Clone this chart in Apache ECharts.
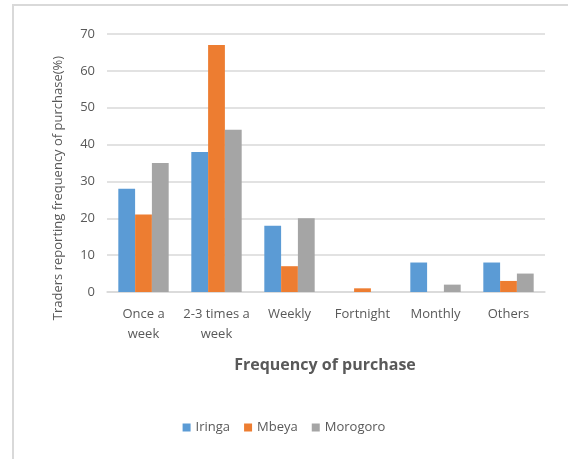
<!DOCTYPE html>
<html>
<head>
<meta charset="utf-8">
<script src="https://cdn.jsdelivr.net/npm/echarts@6/dist/echarts.min.js"></script>
<style>
  html, body { margin: 0; padding: 0; background: #fff; }
  #main { width: 568px; height: 459px; }
</style>
</head>
<body>
<div id="main"></div>
<script>
var categories = ['Once a\nweek', '2-3 times a\nweek', 'Weekly', 'Fortnight', 'Monthly', 'Others'];
var iringa = [28, 38, 18, 0, 8, 8];
var mbeya = [21, 67, 7, 1, 0, 3];
var morogoro = [35, 44, 20, 0, 2, 5];
var yTicks = [0, 10, 20, 30, 40, 50, 60, 70];

var myChart = echarts.init(document.getElementById('main'));
var font = '"Open Sans"';
var option;

option = {
  backgroundColor: '#fff',
  color: ['#5B9BD5', '#ED7D31', '#A5A5A5'],
  animation: false,
  textStyle: { fontFamily: font },
  graphic: [
    {
      type: 'rect',
      shape: { x: 13, y: 5, width: 600, height: 500 },
      style: { fill: 'none', stroke: '#d9d9d9', lineWidth: 2 }
    },
    {
      type: 'text',
      x: 58,
      y: 188,
      rotation: Math.PI / 2,
      style: {
        text: 'Traders reporting frequency of purchase(%)',
        fill: '#595959',
        font: '13px ' + font,
        align: 'center',
        verticalAlign: 'middle'
      }
    },
    {
      type: 'text',
      x: 325,
      y: 365,
      style: {
        text: 'Frequency of purchase',
        fill: '#595959',
        font: 'bold 16px ' + font,
        align: 'center',
        verticalAlign: 'middle'
      }
    }
  ],
  legend: {
    bottom: 20,
    left: 'center',
    itemWidth: 8,
    itemHeight: 8,
    itemGap: 14,
    icon: 'rect',
    textStyle: { color: '#595959', fontSize: 13, fontFamily: font }
  },
  grid: {
    left: 107,
    right: 23,
    top: 34,
    bottom: 167,
    containLabel: false
  },
  xAxis: {
    type: 'category',
    data: categories,
    axisLine: { lineStyle: { color: '#d9d9d9', width: 1.5 } },
    axisTick: { show: false },
    axisLabel: { color: '#595959', fontSize: 13, margin: 12, lineHeight: 20, interval: 0 }
  },
  yAxis: {
    type: 'value',
    min: 0,
    max: 70,
    interval: 10,
    axisLine: { show: false },
    axisTick: { show: false },
    axisLabel: {
      color: '#595959',
      fontSize: 13,
      margin: 12,
      formatter: function (v) { return yTicks.indexOf(v) >= 0 ? String(v) : ''; }
    },
    splitLine: { lineStyle: { color: '#d9d9d9', width: 1.5 } }
  },
  series: [
    { name: 'Iringa', type: 'bar', barGap: '0%', barCategoryGap: '31%', data: iringa },
    { name: 'Mbeya', type: 'bar', barGap: '0%', barCategoryGap: '31%', data: mbeya },
    { name: 'Morogoro', type: 'bar', barGap: '0%', barCategoryGap: '31%', data: morogoro }
  ]
};

option && myChart.setOption(option);
</script>
</body>
</html>
